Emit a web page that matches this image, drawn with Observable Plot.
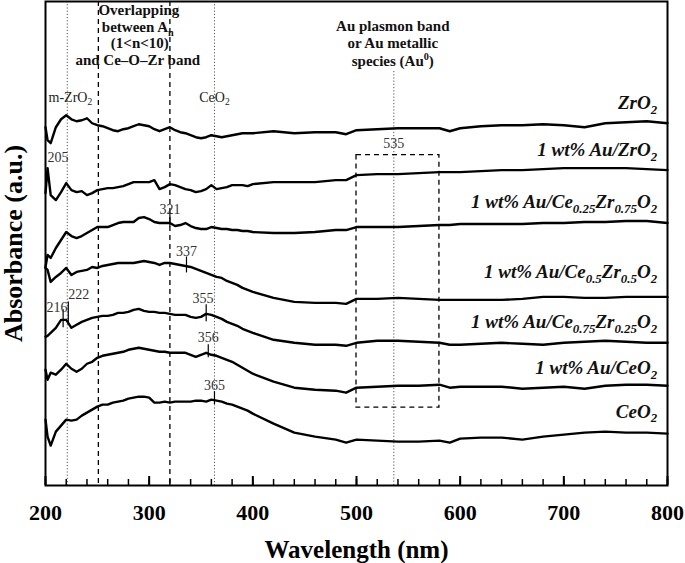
<!DOCTYPE html>
<html><head><meta charset="utf-8">
<script src="https://cdn.jsdelivr.net/npm/d3@7"></script>
<script src="https://cdn.jsdelivr.net/npm/@observablehq/plot@0.6"></script>
<style>body{margin:0;background:#fff} svg{font-family:"Liberation Serif","Times New Roman",serif}</style>
</head><body><div id="chart"></div>
<script>
// Wavelength grid (nm)
const wavelength = [200,202,205,210,215,220,225,230,235,240,245,250,255,260,265,270,275,280,285,290,295,300,305,310,315,320,325,330,335,340,345,350,355,360,365,370,375,380,385,390,395,400,420,440,460,480,490,500,520,540,560,580,590,600,620,640,660,680,700,720,740,760,780,800];

// Absorbance (a.u., stacked offsets)
const absZrO2 = [3.59,3.46,3.43,3.59,3.67,3.71,3.67,3.65,3.66,3.68,3.63,3.61,3.60,3.58,3.56,3.55,3.57,3.58,3.60,3.62,3.61,3.60,3.57,3.55,3.57,3.59,3.56,3.54,3.53,3.51,3.49,3.48,3.49,3.51,3.50,3.49,3.50,3.51,3.52,3.53,3.53,3.53,3.55,3.53,3.54,3.54,3.52,3.56,3.57,3.58,3.58,3.58,3.55,3.58,3.60,3.61,3.61,3.62,3.61,3.59,3.63,3.64,3.65,3.63];
const absAuZrO2 = [2.93,3.18,2.91,2.86,2.94,3.03,2.96,2.94,2.95,2.91,2.93,2.96,2.97,2.98,2.98,2.99,3.00,3.02,3.04,3.04,3.04,3.04,3.06,2.97,2.99,3.02,3.01,2.99,2.97,2.96,2.94,2.95,2.97,3.01,2.97,2.98,2.99,3.01,3.01,3.01,3.00,3.02,3.04,3.04,3.04,3.06,3.06,3.11,3.12,3.12,3.13,3.14,3.14,3.14,3.15,3.16,3.16,3.17,3.18,3.18,3.18,3.18,3.17,3.16];
const absAuCe25 = [2.19,2.31,2.28,2.38,2.46,2.54,2.50,2.48,2.50,2.53,2.56,2.59,2.59,2.59,2.61,2.63,2.64,2.64,2.64,2.68,2.69,2.67,2.64,2.63,2.63,2.63,2.60,2.61,2.63,2.60,2.58,2.57,2.57,2.59,2.58,2.57,2.57,2.56,2.56,2.55,2.55,2.54,2.53,2.53,2.54,2.56,2.56,2.59,2.59,2.59,2.60,2.61,2.61,2.62,2.62,2.62,2.62,2.63,2.63,2.64,2.64,2.65,2.65,2.63];
const absAuCe50 = [2.18,2.16,2.04,2.09,2.13,2.18,2.11,2.14,2.15,2.16,2.19,2.18,2.20,2.21,2.22,2.23,2.23,2.23,2.23,2.24,2.25,2.24,2.23,2.21,2.23,2.23,2.22,2.21,2.20,2.19,2.17,2.15,2.13,2.11,2.09,2.08,2.05,2.03,2.01,1.98,1.96,1.94,1.88,1.84,1.83,1.83,1.82,1.87,1.87,1.88,1.87,1.86,1.86,1.86,1.86,1.86,1.87,1.89,1.89,1.88,1.88,1.89,1.89,1.89];
const absAuCe75 = [1.49,1.50,1.53,1.58,1.66,1.66,1.58,1.61,1.64,1.66,1.68,1.69,1.70,1.70,1.71,1.73,1.73,1.74,1.76,1.77,1.75,1.74,1.74,1.73,1.73,1.72,1.71,1.71,1.71,1.69,1.68,1.69,1.72,1.71,1.69,1.67,1.64,1.62,1.60,1.57,1.55,1.53,1.46,1.43,1.41,1.41,1.40,1.43,1.45,1.45,1.44,1.43,1.41,1.41,1.42,1.43,1.42,1.41,1.43,1.44,1.45,1.44,1.43,1.43];
const absAuCeO2 = [1.16,1.06,1.13,1.11,1.16,1.22,1.17,1.14,1.17,1.22,1.24,1.28,1.30,1.31,1.32,1.33,1.34,1.36,1.37,1.38,1.37,1.36,1.35,1.34,1.34,1.33,1.33,1.33,1.33,1.31,1.29,1.31,1.33,1.31,1.30,1.28,1.26,1.24,1.21,1.18,1.15,1.12,1.04,0.98,0.96,0.95,0.93,0.98,0.99,1.00,1.00,1.01,0.98,0.99,0.99,0.99,0.97,0.98,0.99,0.97,1.00,1.01,1.01,1.00];
const absCeO2 = [0.66,0.49,0.40,0.54,0.60,0.66,0.65,0.66,0.70,0.73,0.76,0.79,0.81,0.81,0.83,0.84,0.85,0.87,0.88,0.89,0.89,0.88,0.83,0.83,0.84,0.83,0.84,0.84,0.84,0.84,0.85,0.85,0.84,0.86,0.85,0.84,0.82,0.81,0.79,0.77,0.75,0.72,0.62,0.53,0.49,0.46,0.43,0.46,0.45,0.44,0.44,0.45,0.43,0.47,0.48,0.48,0.46,0.49,0.51,0.53,0.54,0.53,0.53,0.52];

const seriesNames = ["ZrO2","1 wt% Au/ZrO2","1 wt% Au/Ce0.25Zr0.75O2","1 wt% Au/Ce0.5Zr0.5O2","1 wt% Au/Ce0.75Zr0.25O2","1 wt% Au/CeO2","CeO2"];
const seriesValues = [absZrO2, absAuZrO2, absAuCe25, absAuCe50, absAuCe75, absAuCeO2, absCeO2];
// labels ("_" = subscript, "^" = superscript)
const seriesLabels = ["ZrO_2","1 wt% Au/ZrO_2","1 wt% Au/Ce_0.25Zr_0.75O_2","1 wt% Au/Ce_0.5Zr_0.5O_2","1 wt% Au/Ce_0.75Zr_0.25O_2","1 wt% Au/CeO_2","CeO_2"];
const seriesLabelY = [3.83,3.36,2.84,2.14,1.64,1.18,0.74];

const xMajorTicks = [200,300,400,500,600,700,800];
const xMinorTicks = d3.range(200, 801, 20);

// reference lines
const dottedLines = [221, 363];
const dashedLines = [251, 320];
const auLine = [{x: 536, y1: 0, y2: 4.16}];
const auBox = [{x1: 500, x2: 580, y1: 0.78, y2: 3.31}];

// peak markers and labels
const peakTicks = [
  {x: 320, y1: 2.59, y2: 2.73}, {x: 336, y1: 2.13, y2: 2.29},
  {x: 217, y1: 1.58, y2: 1.76}, {x: 222, y1: 1.61, y2: 1.84},
  {x: 355, y1: 1.64, y2: 1.81}, {x: 357, y1: 1.28, y2: 1.41},
  {x: 363, y1: 0.81, y2: 0.94}
];
const peakLabels = [
  {x: 212, y: 3.29, t: "205"}, {x: 536, y: 3.43, t: "535"},
  {x: 320, y: 2.77, t: "321"}, {x: 336, y: 2.34, t: "337"},
  {x: 211, y: 1.78, t: "216"}, {x: 232, y: 1.91, t: "222"},
  {x: 352, y: 1.87, t: "355"}, {x: 357, y: 1.48, t: "356"},
  {x: 363, y: 1.00, t: "365"}
];
const bandNotes = [
  {x: 290, y: 4.76, t: "Overlapping"}, {x: 289, y: 4.59, t: "between A_n"},
  {x: 291, y: 4.43, t: "(1<n<10)"}, {x: 289, y: 4.26, t: "and Ce–O–Zr band"},
  {x: 535, y: 4.60, t: "Au plasmon band"}, {x: 535, y: 4.43, t: "or Au metallic"},
  {x: 535, y: 4.25, t: "species (Au^0)"}
];
const phaseNotes = [{x: 224, y: 3.89, t: "m-ZrO_2"}, {x: 363, y: 3.89, t: "CeO_2"}];

const rows = seriesNames.flatMap((s, i) => wavelength.map((w, j) => ({series: s, nm: w, a: seriesValues[i][j]})));
const labelRows = seriesLabels.map((t, i) => ({t, y: seriesLabelY[i]}));

const svg = Plot.plot({
  width: 685, height: 563,
  marginLeft: 45, marginRight: 18, marginTop: 1, marginBottom: 78,
  x: {domain: [200, 800]},
  y: {domain: [0, 4.85], axis: null},
  style: {fontFamily: "Liberation Serif", background: "white", color: "black", overflow: "visible"},
  marks: [
    Plot.ruleX(dottedLines, {x: d => d, stroke: "#555", strokeWidth: 1, strokeDasharray: "1.2,2"}),
    Plot.ruleX(auLine, {x: "x", y1: "y1", y2: "y2", stroke: "#555", strokeWidth: 1, strokeDasharray: "1.2,2"}),
    Plot.ruleX(dashedLines, {x: d => d, stroke: "black", strokeWidth: 1.3, strokeDasharray: "5,4"}),
    Plot.rect(auBox, {x1: "x1", x2: "x2", y1: "y1", y2: "y2", fill: "none", stroke: "black", strokeWidth: 1.3, strokeDasharray: "5,4"}),
    Plot.line(rows, {x: "nm", y: "a", z: "series", stroke: "black", strokeWidth: 2.4, strokeLinejoin: "round"}),
    Plot.ruleX(peakTicks, {x: "x", y1: "y1", y2: "y2", stroke: "black", strokeWidth: 1.2}),
    Plot.text(peakLabels, {x: "x", y: "y", text: "t", fontSize: 14, fill: "#333"}),
    Plot.text(bandNotes, {x: "x", y: "y", text: "t", fontSize: 15, fontWeight: "bold", fill: "#111"}),
    Plot.text(phaseNotes, {x: "x", y: "y", text: "t", fontSize: 14, fill: "#222"}),
    Plot.text(labelRows, {x: 790, y: "y", text: "t", textAnchor: "end", fontSize: 19, fontWeight: "bold", fontStyle: "italic", fill: "#111"}),
    Plot.axisX(xMinorTicks, {tickSize: 6, dy: -6, text: null, label: null, strokeWidth: 1.5}),
    Plot.axisX(xMajorTicks, {tickSize: 9, dy: -9, text: null, label: null, strokeWidth: 2}),
    Plot.text(xMajorTicks, {x: d => d, frameAnchor: "bottom", lineAnchor: "middle", dy: 27, text: d => String(d), fontSize: 22, fontWeight: "bold"}),
    Plot.text(["Wavelength (nm)"], {x: 500, frameAnchor: "bottom", lineAnchor: "middle", dy: 64, text: d => d, fontSize: 25, fontWeight: "bold"}),
    Plot.text(["Absorbance (a.u.)"], {frameAnchor: "left", textAnchor: "middle", lineAnchor: "middle", dx: -32, rotate: -90, text: d => d, fontSize: 26, fontWeight: "bold"}),
    Plot.frame({stroke: "black", strokeWidth: 2})
  ]
});
document.getElementById("chart").appendChild(svg);

// subscripts / superscripts
svg.querySelectorAll("text").forEach(t => {
  const targets = t.querySelector("tspan") ? [...t.querySelectorAll("tspan")] : [t];
  targets.forEach(el => {
    const s = el.textContent;
    if (!/[_^]/.test(s)) return;
    const fs = parseFloat(getComputedStyle(el).fontSize) || 16;
    const parts = s.split(/([_^](?:[0-9.]+|n))/).filter(p => p !== "");
    el.textContent = "";
    let shift = 0;
    for (const p of parts) {
      const ts = document.createElementNS("http://www.w3.org/2000/svg", "tspan");
      let target = 0, txt = p, small = false;
      if (p[0] === "_") { target = 0.25 * fs; txt = p.slice(1); small = true; }
      else if (p[0] === "^") { target = -0.38 * fs; txt = p.slice(1); small = true; }
      const d = target - shift;
      if (d) ts.setAttribute("dy", d.toFixed(2));
      shift = target;
      if (small) ts.setAttribute("font-size", (0.68 * fs).toFixed(1));
      ts.textContent = txt;
      el.appendChild(ts);
    }
  });
});
</script></body></html>
